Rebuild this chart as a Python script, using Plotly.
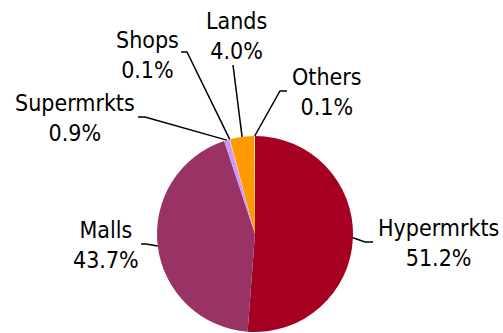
import math
import plotly.graph_objects as go

# Share of retail space by format
labels = ["Hypermrkts", "Malls", "Supermrkts", "Shops", "Lands", "Others"]
values = [51.2, 43.7, 0.9, 0.1, 4.0, 0.1]
colors = ["#A50021", "#993366", "#CC99FF", "#FFCC99", "#FF9900", "#FFFF99"]

W, H = 503, 333
CX, CY, R = 255, 234, 98  # pie centre and radius, pixels

# label block centre, elbow and end of the leader line, pixels
label_pos = {
    "Hypermrkts": ((438, 243), (365, 242), (373, 242)),
    "Malls": ((106, 245), (146, 244), (141, 244)),
    "Supermrkts": ((75, 118), (145, 117), (138, 117)),
    "Shops": ((147, 55), (187, 52), (181, 52)),
    "Lands": ((236, 36), (233, 65), (233, 65)),
    "Others": ((327, 92), (280, 91), (287, 91)),
}

FONT = dict(family="DejaVu Sans Condensed, DejaVu Sans", size=23, color="#000000")


def px(x, y):
    return x / W, 1 - y / H


fig = go.Figure(
    go.Pie(
        labels=labels,
        values=values,
        marker=dict(colors=colors, line=dict(width=0)),
        sort=False,
        direction="clockwise",
        rotation=0,
        textinfo="none",
        hoverinfo="label+percent",
        domain=dict(x=[(CX - R) / W, (CX + R) / W], y=[1 - (CY + R) / H, 1 - (CY - R) / H]),
    )
)

total = sum(values)
cum = 0.0
shapes, annotations = [], []
for lab, val in zip(labels, values):
    mid = (cum + val / 2) / total * 2 * math.pi
    cum += val
    ex, ey = CX + R * math.sin(mid), CY - R * math.cos(mid)
    (tx, ty), (bx, by), (fx, fy) = label_pos[lab]
    p0, p1, p2 = px(ex, ey), px(bx, by), px(fx, fy)
    shapes.append(dict(
        type="path", xref="paper", yref="paper",
        path=f"M {p0[0]},{p0[1]} L {p1[0]},{p1[1]} L {p2[0]},{p2[1]}",
        line=dict(color="#000000", width=1.5),
    ))
    ax, ay = px(tx, ty)
    annotations.append(dict(
        x=ax, y=ay, xref="paper", yref="paper",
        text=f"{lab}<br>{val:.1f}%", showarrow=False,
        xanchor="center", yanchor="middle", align="center", font=FONT,
    ))

fig.update_layout(
    width=W, height=H,
    margin=dict(l=0, r=0, t=0, b=0),
    paper_bgcolor="white", plot_bgcolor="white",
    showlegend=False,
    shapes=shapes, annotations=annotations,
)

fig.write_html("out.html")
